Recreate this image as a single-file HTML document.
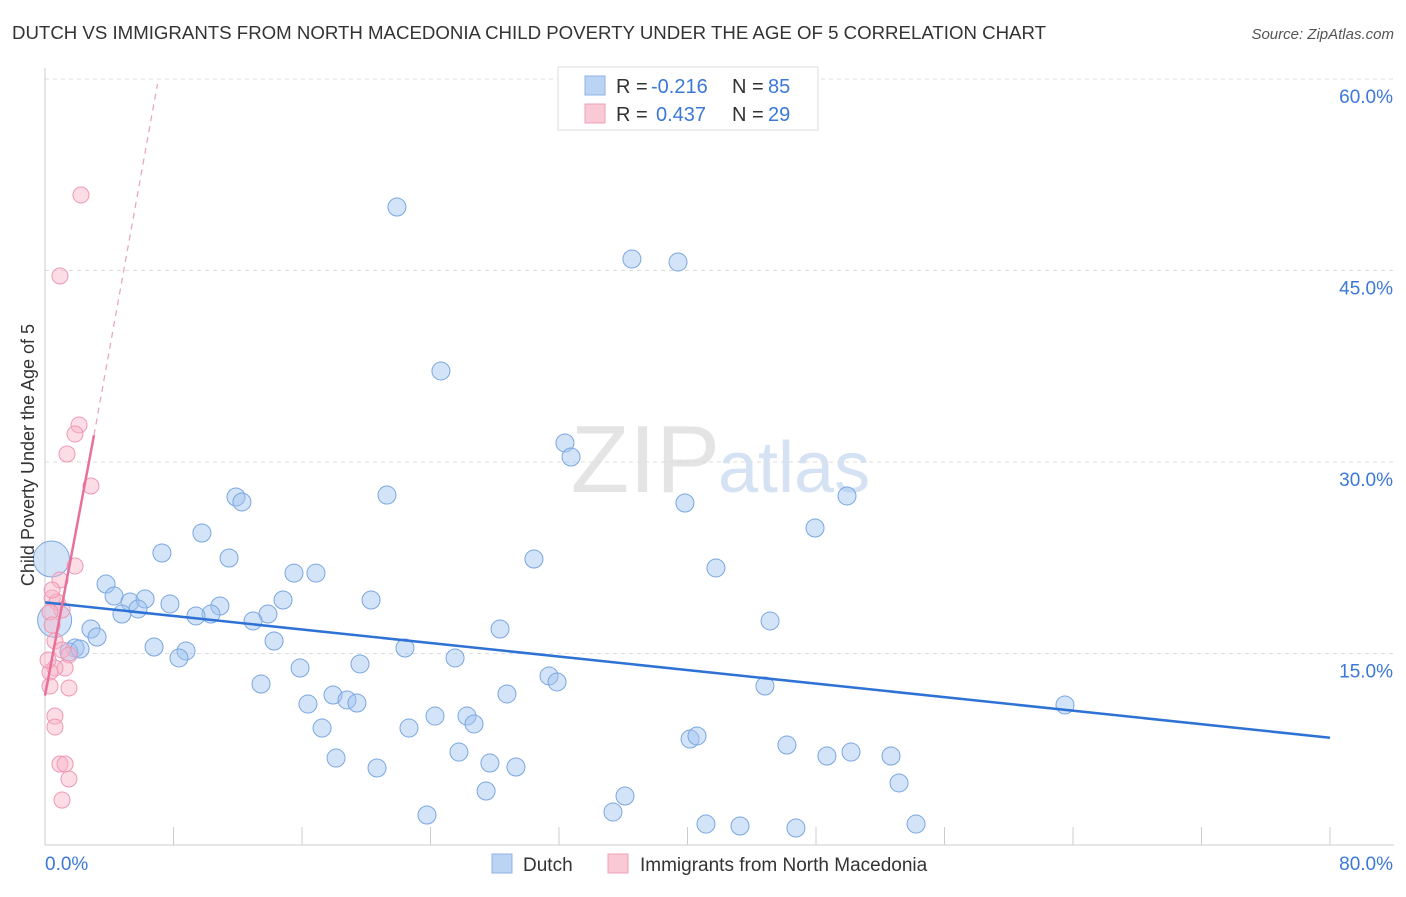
<!DOCTYPE html>
<html><head><meta charset="utf-8"><style>
body{margin:0;background:#fff;font-family:"Liberation Sans",sans-serif}
svg text{font-family:"Liberation Sans",sans-serif}
</style></head><body>
<svg id="c" width="1406" height="892" xmlns="http://www.w3.org/2000/svg">
<text x="12" y="39" font-size="18" fill="#333" textLength="1034" lengthAdjust="spacingAndGlyphs">DUTCH VS IMMIGRANTS FROM NORTH MACEDONIA CHILD POVERTY UNDER THE AGE OF 5 CORRELATION CHART</text>
<text x="1394" y="39" font-size="15" fill="#555" font-style="italic" text-anchor="end">Source: ZipAtlas.com</text>
<text x="720" y="492" font-size="96" fill="#e4e4e4" text-anchor="end" font-family="Liberation Serif">ZIP</text>
<text x="718" y="492" font-size="72" fill="#d4e2f4">atlas</text>
<g id="grid"></g><g id="axes"></g><g id="pts"></g><g id="trend"></g>
<text x="34" y="455" font-size="18" fill="#333" text-anchor="middle" transform="rotate(-90 34 455)">Child Poverty Under the Age of 5</text>
<g>
<rect x="558" y="67" width="260" height="63" fill="#fff" stroke="#ddd"/>
<rect x="585" y="76" width="20" height="19" fill="#bcd4f4" stroke="#8fb2e6"/>
<rect x="585" y="104" width="20" height="19" fill="#f9c9d6" stroke="#f0a0b8"/>
<text x="616" y="93" font-size="20" fill="#333">R =</text>
<text x="651" y="93" font-size="20" fill="#3c78d8">-0.216</text>
<text x="732" y="93" font-size="20" fill="#333">N =</text>
<text x="768" y="93" font-size="20" fill="#3c78d8">85</text>
<text x="616" y="121" font-size="20" fill="#333">R =</text>
<text x="656" y="121" font-size="20" fill="#3c78d8">0.437</text>
<text x="732" y="121" font-size="20" fill="#333">N =</text>
<text x="768" y="121" font-size="20" fill="#3c78d8">29</text>
</g>
<g>
<rect x="492" y="854" width="20" height="19" fill="#bcd4f4" stroke="#8fb2e6"/>
<text x="523" y="871" font-size="19" fill="#333">Dutch</text>
<rect x="608" y="854" width="20" height="19" fill="#f9c9d6" stroke="#f0a0b8"/>
<text x="640" y="871" font-size="19" fill="#333">Immigrants from North Macedonia</text>
</g>
</svg>
<script>
const yTicks=[15,30,45,60];
const xTickLabels=["0.0%","80.0%"];
const dutchPx=[[397,207],[632,259],[678,262],[441,371],[565,443],[571,457],[387,495],[236,497],[242,502],[685,503],[847,496],[815,528],[202,533],[534,559],[162,553],[229,558],[716,568],[294,573],[316,573],[106,584],[114,596],[130,602],[145,599],[170,604],[138,609],[122,614],[220,606],[211,614],[196,616],[268,614],[253,621],[283,600],[371,600],[770,621],[500,629],[91,629],[97,637],[274,641],[154,647],[186,651],[179,658],[405,648],[455,658],[300,668],[360,664],[549,676],[557,682],[765,686],[261,684],[333,695],[347,700],[357,703],[308,704],[507,694],[1065,705],[435,716],[467,716],[474,724],[322,728],[409,728],[690,739],[697,736],[787,745],[459,752],[827,756],[851,752],[891,756],[336,758],[490,763],[516,767],[377,768],[899,783],[486,791],[625,796],[613,812],[427,815],[706,824],[740,826],[796,828],[916,824],[75,648],[69,652],[80,649]];
const pinkPx=[[81,195],[60,276],[79,425],[75,434],[67,454],[91,486],[75,566],[60,580],[52,598],[57,602],[62,610],[50,612],[52,625],[55,641],[62,650],[69,655],[65,668],[55,668],[50,672],[69,688],[50,686],[55,716],[55,727],[60,764],[65,764],[69,779],[62,800],[52,590],[48,660]];
const dutchX=dutchPx.map(p=>+((p[0]-45)/16.0625).toFixed(2)).concat([0.6,0.4]);
const dutchY=dutchPx.map(p=>+((845-p[1])/12.767).toFixed(2)).concat([17.6,22.4]);
const dutchR=dutchPx.map(()=>9).concat([17,18]);
const pinkX=pinkPx.map(p=>+((p[0]-45)/16.0625).toFixed(2));
const pinkY=pinkPx.map(p=>+((845-p[1])/12.767).toFixed(2));
const dutchTrend=[[0,19.0],[80,8.4]];
const pinkTrend=[[0,11.7],[3.05,32.1]];
const pinkDash=[[3.05,32.1],[7.0,59.6]];
const X=v=>45+v*16.0625, Y=v=>845-v*12.767;
const NS="http://www.w3.org/2000/svg";
function mk(t,a,p){const e=document.createElementNS(NS,t);for(const k in a)e.setAttribute(k,a[k]);document.getElementById(p).appendChild(e);return e;}
yTicks.forEach(t=>{const l=mk('line',{x1:45,x2:1394,y1:Y(t),y2:Y(t),stroke:'#ddd','stroke-dasharray':'4,4'},'grid');


const tx=mk('text',{x:1393,y:Y(t)+24,'font-size':19,fill:'#3c78d8','text-anchor':'end'},'axes');tx.textContent=t.toFixed(1)+'%';

});
const ax=mk('line',{x1:45,x2:1394,y1:845,y2:845,stroke:'#ccc'},'axes');


const ay=mk('line',{x1:45,x2:45,y1:68,y2:845,stroke:'#ccc'},'axes');


for(let i=0;i<=10;i++){const t=mk('line',{x1:X(i*8),x2:X(i*8),y1:827,y2:845,stroke:'#ccc'},'axes');

}
const l0=mk('text',{x:45,y:870,'font-size':19,fill:'#3c78d8'},'axes');l0.textContent=xTickLabels[0];


const l1=mk('text',{x:1393,y:870,'font-size':19,fill:'#3c78d8','text-anchor':'end'},'axes');l1.textContent=xTickLabels[1];


dutchX.forEach((v,i)=>{const c=mk('circle',{cx:X(v),cy:Y(dutchY[i]),r:dutchR[i],fill:'rgba(160,195,240,0.45)',stroke:'#7aa6e0','stroke-width':1},'pts');

});
pinkX.forEach((v,i)=>{const c=mk('circle',{cx:X(v),cy:Y(pinkY[i]),r:8,fill:'rgba(248,180,200,0.45)',stroke:'#ef98b4','stroke-width':1},'pts');

});
const t1=mk('line',{x1:X(dutchTrend[0][0]),y1:Y(dutchTrend[0][1]),x2:X(dutchTrend[1][0]),y2:Y(dutchTrend[1][1]),stroke:'#2f72d6','stroke-width':2.5},'trend');


const t2=mk('line',{x1:X(pinkTrend[0][0]),y1:Y(pinkTrend[0][1]),x2:X(pinkTrend[1][0]),y2:Y(pinkTrend[1][1]),stroke:'#e8709a','stroke-width':2.5},'trend');


const t3=mk('line',{x1:X(pinkDash[0][0]),y1:Y(pinkDash[0][1]),x2:X(pinkDash[1][0]),y2:Y(pinkDash[1][1]),stroke:'#eaa0b8','stroke-width':1.2,'stroke-dasharray':'6,5'},'trend');


</script>
</body></html>
